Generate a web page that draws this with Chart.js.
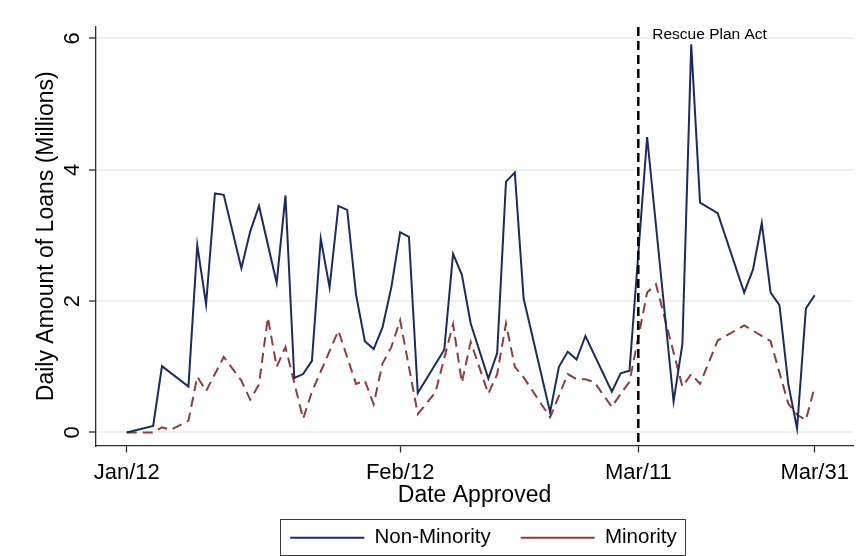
<!DOCTYPE html>
<html>
<head>
<meta charset="utf-8">
<script src="https://cdn.jsdelivr.net/npm/chart.js@4.4.1/dist/chart.umd.min.js"></script>
<style>
  html, body { margin: 0; padding: 0; background: #ffffff; }
  #wrap { width: 867px; height: 556px; position: relative; }
</style>
</head>
<body>
<div id="wrap"><canvas id="chart"></canvas></div>
<script>
// Day offsets counted from Jan 12, 2021 (day 0)
const days = [0, 3, 4, 5, 7, 8, 9, 10, 11, 13, 14, 15, 16, 17, 18, 19, 20, 21, 22, 23,
              24, 25, 26, 27, 28, 29, 30, 31, 32, 33, 35, 36, 37, 38, 39, 41, 42, 43, 44, 45,
              48, 49, 50, 51, 52, 53, 55, 56, 57, 59, 60, 62, 63, 64, 65, 67, 70, 71, 72, 73,
              74, 75, 76, 77, 78];

// Daily amount of loans approved, millions (null = no observation for that series)
const nonMinority = [0.00, 0.10, 1.01, null, 0.70, 2.85, 1.95, 3.64, 3.62, 2.50, 3.06, 3.45, null, 2.28, 3.61, 0.83, 0.89, 1.09, 2.95, 2.21,
                     3.45, 3.39, 2.10, 1.39, 1.27, 1.60, 2.21, 3.05, 2.98, 0.60, null, 1.26, 2.72, 2.40, 1.66, 0.82, 1.21, 3.82, 3.96, 2.04,
                     0.31, 1.00, 1.23, 1.11, 1.47, null, 0.62, 0.90, 0.94, 4.50, null, 0.47, 1.35, 5.91, 3.50, 3.34, 2.13, 2.48, 3.19, 2.13,
                     1.94, 0.74, 0.06, 1.89, 2.09];

const minority = [0.00, 0.00, 0.08, 0.04, 0.18, 0.85, 0.63, null, 1.15, 0.79, 0.50, 0.73, 1.75, 1.00, 1.30, null, 0.21, 0.62, null, null,
                  1.55, null, 0.74, 0.79, 0.43, 1.05, 1.30, 1.71, null, 0.28, 0.61, null, 1.65, 0.76, 1.38, 0.59, 0.89, 1.66, 1.00, 0.84,
                  0.23, null, 0.89, 0.81, 0.81, 0.77, 0.39, 0.59, 0.77, 2.13, 2.26, null, 0.70, 0.89, 0.74, 1.40, 1.63, null, null, 1.39,
                  null, 0.44, 0.27, 0.19, 0.70];

// Axis ticks
const tickDays = [0, 31, 58, 78];
const tickLabels = ['Jan/12', 'Feb/12', 'Mar/11', 'Mar/31'];
const yTicks = [0, 2, 4, 6];

// Event marker
const rescueDay = 58;
const rescueLabel = 'Rescue Plan Act';

const FONT = '"Liberation Sans", Arial, Helvetica, sans-serif';
const AXIS_COLOR = '#2e2e2e';

// Nudge the legend so it sits centred under the plot content
const legendShift = {
  id: 'legendShift',
  afterLayout(chart) {
    const lg = chart.legend;
    if (!lg) return;
    lg.left += 9;
    lg.right += 9;
  }
};

// Frame around the legend entries
const legendFrame = {
  id: 'legendFrame',
  afterDraw(chart) {
    const lg = chart.legend;
    if (!lg || !lg.legendHitBoxes || !lg.legendHitBoxes.length) return;
    const hb = lg.legendHitBoxes;
    const first = hb[0], last = hb[hb.length - 1];
    const left = first.left - 10;
    const right = last.left + last.width + 9;
    const top = first.top - 9;
    const bottom = top + 36;
    const ctx = chart.ctx;
    ctx.save();
    ctx.strokeStyle = '#3a3a3a';
    ctx.lineWidth = 1;
    ctx.setLineDash([]);
    ctx.strokeRect(Math.round(left) + 0.5, Math.round(top) + 0.5, Math.round(right - left), Math.round(bottom - top));
    ctx.restore();
  }
};

// Vertical dashed marker with its caption
const eventMarker = {
  id: 'eventMarker',
  afterDatasetsDraw(chart) {
    const xs = chart.scales.x;
    const area = chart.chartArea;
    const x = xs.getPixelForValue(rescueDay);
    const ctx = chart.ctx;
    ctx.save();
    ctx.strokeStyle = '#000000';
    ctx.lineWidth = 2.5;
    ctx.setLineDash([9, 5]);
    ctx.beginPath();
    ctx.moveTo(x, area.top);
    ctx.lineTo(x, area.bottom);
    ctx.stroke();
    ctx.setLineDash([]);
    ctx.fillStyle = '#000000';
    ctx.font = '15.5px ' + FONT;
    ctx.textAlign = 'left';
    ctx.textBaseline = 'middle';
    ctx.fillText(rescueLabel, x + 14, area.top + 8);
    ctx.restore();
  }
};

new Chart(document.getElementById('chart'), {
  type: 'line',
  data: {
    datasets: [
      {
        label: 'Non-Minority',
        data: days.map((d, i) => ({ x: d, y: nonMinority[i] })),
        borderColor: '#1c2b5c',
        backgroundColor: '#1c2b5c',
        borderWidth: 2,
        pointRadius: 0,
        tension: 0,
        fill: false,
        spanGaps: true
      },
      {
        label: 'Minority',
        data: days.map((d, i) => ({ x: d, y: minority[i] })),
        borderColor: '#923a40',
        backgroundColor: '#923a40',
        borderWidth: 2,
        borderDash: [10, 6],
        pointRadius: 0,
        tension: 0,
        fill: false,
        spanGaps: true
      }
    ]
  },
  options: {
    responsive: true,
    maintainAspectRatio: false,
    animation: false,
    devicePixelRatio: 1,
    layout: { padding: { top: 27, right: 14, bottom: -2, left: 0 } },
    plugins: {
      tooltip: { enabled: false },
      legend: {
        position: 'bottom',
        fullSize: false,
        labels: {
          usePointStyle: true,
          pointStyle: 'line',
          pointStyleWidth: 74,
          padding: 30,
          color: '#000000',
          font: { family: FONT, size: 20.5 }
        }
      }
    },
    scales: {
      x: {
        type: 'linear',
        min: -3.48,
        max: 82.34,
        afterBuildTicks: (s) => { s.ticks = tickDays.map(v => ({ value: v })); },
        afterFit: (s) => { s.height = 52; },
        ticks: {
          autoSkip: false,
          maxRotation: 0,
          minRotation: 0,
          padding: 7,
          color: '#000000',
          font: { family: FONT, size: 22 },
          callback: (v) => tickLabels[tickDays.indexOf(v)]
        },
        grid: {
          drawOnChartArea: false,
          drawTicks: true,
          tickLength: 7,
          tickColor: AXIS_COLOR,
          tickWidth: 1.3
        },
        border: { display: true, color: AXIS_COLOR, width: 1.3 },
        title: {
          display: true,
          text: 'Date Approved',
          color: '#000000',
          font: { family: FONT, size: 23 },
          padding: { top: 0, bottom: -12 }
        }
      },
      y: {
        min: -0.198,
        max: 6.175,
        afterBuildTicks: (s) => { s.ticks = yTicks.map(v => ({ value: v })); },
        afterFit: (s) => { s.width = 96; },
        ticks: {
          minRotation: 90,
          maxRotation: 90,
          crossAlign: 'center',
          padding: 10,
          color: '#000000',
          font: { family: FONT, size: 22 }
        },
        grid: {
          color: '#eaf1f3',
          lineWidth: 2,
          drawTicks: true,
          tickLength: 7,
          tickColor: AXIS_COLOR,
          tickWidth: 1.3
        },
        border: { display: true, color: AXIS_COLOR, width: 1.3 },
        title: {
          display: true,
          text: 'Daily Amount of Loans (Millions)',
          color: '#000000',
          font: { family: FONT, size: 23 },
          padding: { top: 33, bottom: 0 }
        }
      }
    }
  },
  plugins: [legendShift, legendFrame, eventMarker]
});
</script>
</body>
</html>
